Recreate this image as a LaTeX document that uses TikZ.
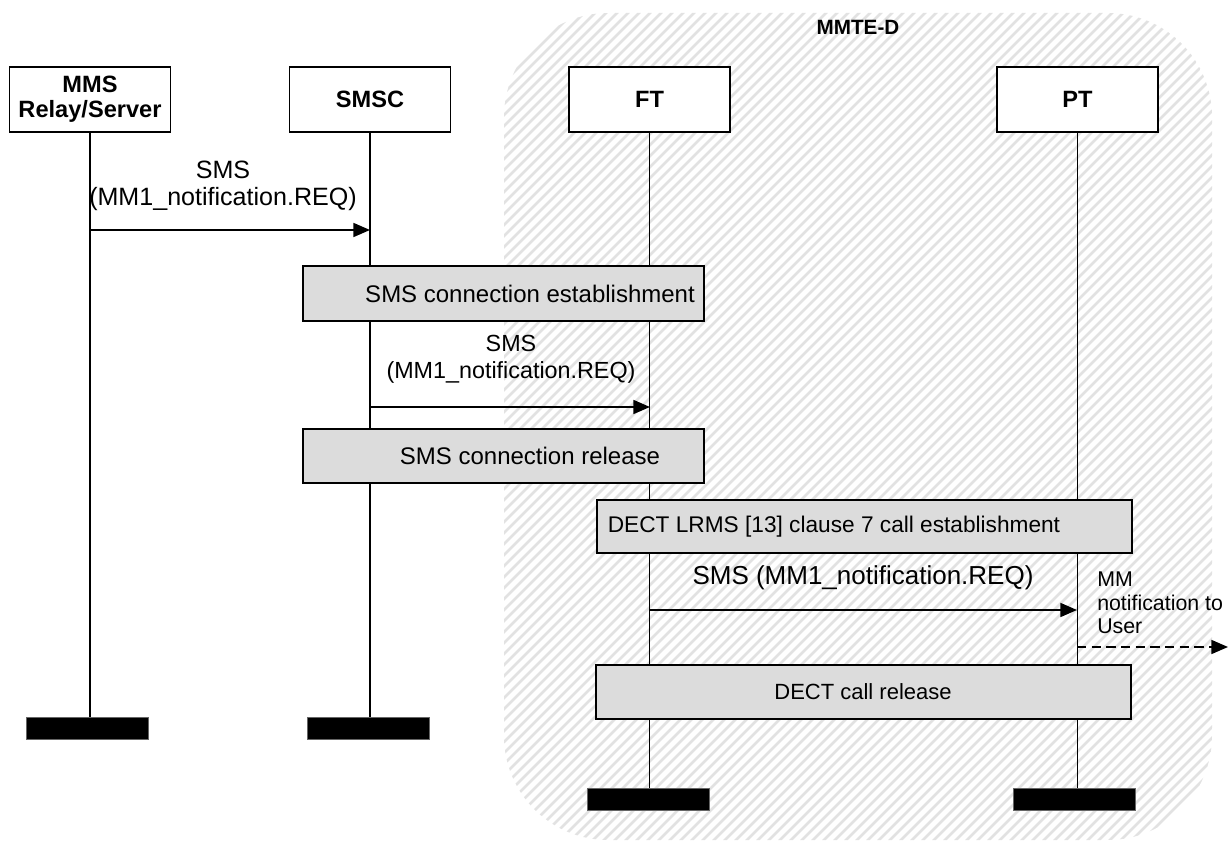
\documentclass[tikz,border=0pt]{standalone}
\usepackage{fontspec}
\setmainfont{Liberation Sans}
\usetikzlibrary{arrows.meta}
\begin{document}
\begin{tikzpicture}[x=0.75pt,y=-0.75pt,
  lbl/.style={font=\fontsize{17}{19.5}\selectfont, align=center, inner sep=0pt},
  note/.style={font=\fontsize{16}{17.6}\selectfont, align=left, inner sep=0pt},
  entity/.style={draw=black, line width=1.3pt, fill=white, minimum width=120.75pt, minimum height=48.75pt, inner sep=0pt, font=\fontsize{17.7}{19.5}\selectfont\bfseries, align=center},
  endbar/.style={fill=black, draw=black!60, line width=0.5pt, minimum width=91.5pt, minimum height=16.5pt, inner sep=0pt},
  grbox/.style={draw=black, line width=1.3pt, fill={rgb,255:red,220;green,220;blue,220}, inner sep=0pt},
  life/.style={line width=1.3pt},
  msg/.style={line width=1.3pt, -{Triangle[length=12.5pt,width=10.5pt]}},
  dmsg/.style={line width=1.3pt, dash pattern=on 7pt off 4pt, -{Triangle[length=12.5pt,width=10.5pt]}},
  hatch/.style={line width=2.1pt, draw={rgb,255:red,226;green,226;blue,226}}
]
\useasboundingbox (0,0) rectangle (1229,841);
% hatched MMTE-D region
\begin{scope}
  \clip[rounded corners=78pt] (504,13) rectangle (1212,840);
  \foreach \i in {-858,-847,...,1220} {
    \draw[hatch] (\i,850) -- ++(850,-850);
  }
\end{scope}
\node[font=\fontsize{15.5}{18}\selectfont\bfseries, inner sep=0pt] (mmted) at (858,27) {MMTE-D};

% entities
\node[entity] (mms) at (90,99.5) {MMS\\[-1pt]Relay/Server};
\node[entity] (smsc) at (370,99.5) {SMSC};
\node[entity] (ft) at (649.5,99.5) {FT};
\node[entity] (pt) at (1077.5,99.5) {PT};

% end bars
\node[endbar] (mmsend) at (87.5,728) {};
\node[endbar] (smscend) at (368,728) {};
\node[endbar] (ftend) at (648,799.5) {};
\node[endbar] (ptend) at (1074.5,799.5) {};

% lifelines
\draw[life] (mms.south) -- (mms.south |- mmsend.north);
\draw[life] (smsc.south) -- (smsc.south |- smscend.north);
\draw[life] (ft.south) -- (ft.south |- ftend.north);
\draw[life] (pt.south) -- (pt.south |- ptend.north);

% message 1
\coordinate (m1a) at (90,230);
\coordinate (m1b) at (370,230);
\draw[msg] (m1a) -- (m1b);
\node[lbl, font=\fontsize{18.8}{20}\selectfont] (l1) at (223,186) {SMS\\(MM1\_notification.REQ)};

% SMS connection establishment
\node[grbox, minimum width=300.75pt, minimum height=41.25pt] (est) at (503.5,293.5) {};
\node[lbl, font=\fontsize{18}{20}\selectfont] (estl) at (530,293.5) {SMS connection establishment};

% message 2
\coordinate (m2a) at (370,407);
\coordinate (m2b) at (650,407);
\draw[msg] (m2a) -- (m2b);
\node[lbl, font=\fontsize{17.5}{20.5}\selectfont] (l2) at (511,359) {SMS\\(MM1\_notification.REQ)};

% SMS connection release
\node[grbox, minimum width=300.75pt, minimum height=40.5pt] (rel) at (503.5,456) {};
\node[lbl, font=\fontsize{18}{20}\selectfont] (rell) at (530,456) {SMS connection release};

% DECT LRMS call establishment
\node[grbox, minimum width=401.25pt, minimum height=39.75pt] (dest) at (864.5,526.5) {};
\node[lbl] (destl) at (834,526.5) {DECT LRMS [13] clause 7 call establishment};

% message 3
\coordinate (m3a) at (650,610);
\coordinate (m3b) at (1077,610);
\draw[msg] (m3a) -- (m3b);
\node[lbl, font=\fontsize{19.5}{21}\selectfont] (l3) at (863,578) {SMS (MM1\_notification.REQ)};

% MM notification to user
\node[note, anchor=west] (mmn) at (1097,603) {MM\\notification to\\User};
\coordinate (m4a) at (1077,647);
\coordinate (m4b) at (1228,647);
\draw[dmsg] (m4a) -- (m4b);

% DECT call release
\node[grbox, minimum width=401.25pt, minimum height=40.5pt] (drel) at (863.5,692) {};
\node[lbl, font=\fontsize{16.5}{18}\selectfont] (drell) at (863,692) {DECT call release};
\end{tikzpicture}
\end{document}
